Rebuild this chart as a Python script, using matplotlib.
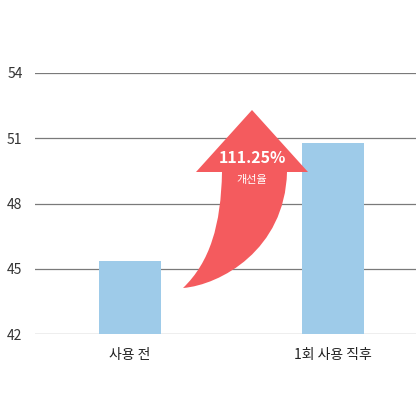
import matplotlib
matplotlib.use("Agg")
import matplotlib.pyplot as plt
from matplotlib.path import Path
from matplotlib.patches import PathPatch

plt.rcParams['font.family'] = ['Noto Sans CJK KR', 'DejaVu Sans']

categories = ["사용 전", "1회 사용 직후"]
values = [45.35, 50.8]
yticks = [42, 45, 48, 51, 54]

fig = plt.figure(figsize=(4.16, 4.16), dpi=100)
ax = fig.add_axes([35/416, 1-334/416, 381/416, 261/416])
ax.set_xlim(-0.468, 1.409)
ax.set_yticks(yticks)
ax.set_yticklabels([str(t) for t in yticks], fontsize=10, color="#333333")
ax.grid(axis='y', color="#7a7a7a", linewidth=0.9)
ax.set_axisbelow(True)
for s in ax.spines.values():
    s.set_visible(False)
ax.tick_params(axis='y', length=0, pad=9)
ax.tick_params(axis='x', length=0, pad=10)
ax.bar(range(len(categories)), values, width=0.305, color="#9ecbe9")
ax.set_ylim(42, 54)
ax.set_xticks(range(len(categories)))
ax.set_xticklabels(categories, fontsize=10, color="#222222")

def P(x, y):
    return (x/416, 1-y/416)
verts = [P(183,288), P(210,262), P(221,225), P(222,172), P(196,172),
         P(252,110), P(308,172), P(287,172),
         P(285,250), P(220,285), P(183,288), P(183,288)]
codes = [Path.MOVETO, Path.CURVE4, Path.CURVE4, Path.CURVE4, Path.LINETO,
         Path.LINETO, Path.LINETO, Path.LINETO,
         Path.CURVE4, Path.CURVE4, Path.CURVE4, Path.CLOSEPOLY]
fig.patches.append(PathPatch(Path(verts, codes), transform=fig.transFigure,
                             facecolor="#f45b5e", edgecolor="none"))
fig.text(252/416, 1-158/416, "111.25%", ha='center', va='center', color='white',
         fontsize=11.5, fontweight='bold')
fig.text(252/416, 1-180/416, "개선율", ha='center', va='center', color='white', fontsize=8)

fig.savefig("out.png", dpi=100)
